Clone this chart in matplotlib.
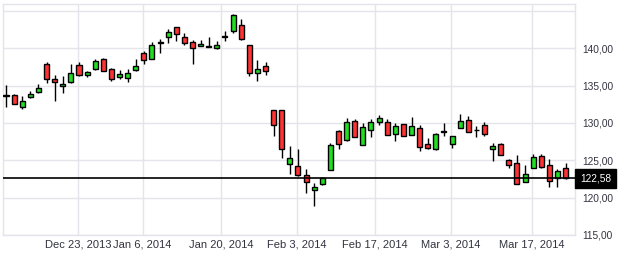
import matplotlib
matplotlib.use("Agg")
import matplotlib.pyplot as plt
import numpy as np
import pandas as pd

# ---- data ----
holidays = ["2013-12-25", "2014-01-01", "2014-01-20", "2014-02-17"]
dates = [d for d in pd.bdate_range("2013-12-10", "2014-03-21") if d.strftime("%Y-%m-%d") not in holidays]

opens = [133.65, 133.8, 132.13, 133.47, 134.21, 137.9, 135.87, 134.93, 135.47, 137.77,
         136.4, 137.2, 138.6, 137.2, 136.13, 136.04, 137.07, 139.33, 138.53, 140.72,
         141.47, 142.8, 141.47, 140.8, 140.31, 140.18, 140.04, 141.52, 142.27, 143.07,
         140.4, 136.67, 137.6, 131.77, 131.77, 124.53, 124.27, 122.97, 121.07, 121.87,
         123.68, 128.93, 127.68, 130.27, 127.07, 129.07, 130.13, 130.13, 128.53, 129.87,
         128.4, 129.33, 127.2, 126.48, 128.85, 127.2, 129.33, 130.4, 129.0, 129.77,
         126.53, 127.2, 125.07, 124.67, 122.13, 124.0, 125.6, 124.4, 122.67, 124.0]
highs = [135.1, 133.9, 133.55, 134.3, 135.24, 138.17, 136.44, 136.3, 137.9, 138.13,
         137.0, 138.53, 138.75, 137.33, 137.07, 137.2, 138.57, 139.68, 140.84, 141.24,
         142.57, 142.85, 142.0, 141.1, 141.1, 141.47, 140.93, 142.35, 144.57, 143.87,
         140.45, 138.44, 138.17, 131.8, 131.8, 126.97, 126.57, 123.87, 122.0, 122.8,
         127.28, 129.0, 130.71, 130.53, 130.0, 130.53, 131.07, 130.53, 130.0, 129.9,
         130.8, 129.73, 128.0, 128.6, 130.0, 128.3, 131.15, 130.88, 129.55, 130.13,
         127.33, 127.3, 125.2, 125.73, 124.35, 125.91, 125.87, 125.2, 123.87, 124.67]
lows = [132.2, 132.5, 131.9, 133.28, 134.08, 135.41, 132.88, 134.08, 135.4, 136.35,
        136.2, 137.15, 136.9, 135.68, 135.9, 135.55, 136.97, 137.87, 138.5, 139.41,
        140.67, 141.0, 140.44, 137.87, 140.3, 140.13, 139.87, 140.93, 142.0, 141.15,
        136.35, 135.68, 136.48, 128.21, 125.28, 123.2, 122.88, 120.61, 118.88, 121.73,
        123.65, 126.48, 127.55, 128.1, 127.0, 128.13, 129.73, 128.4, 127.55, 128.25,
        128.4, 126.31, 126.53, 126.35, 128.21, 126.61, 129.3, 128.75, 128.08, 128.27,
        124.93, 125.7, 124.0, 121.85, 122.1, 124.0, 124.0, 121.47, 121.47, 122.55]
closes = [133.72, 132.53, 132.88, 133.87, 134.67, 135.87, 135.47, 135.2, 136.67, 136.4,
          136.8, 138.27, 136.93, 135.87, 136.53, 136.67, 137.6, 138.4, 140.48, 140.78,
          142.13, 141.91, 140.67, 140.0, 140.57, 140.24, 140.4, 141.58, 144.4, 141.28,
          136.67, 137.28, 137.01, 129.73, 126.53, 125.33, 123.01, 122.13, 121.47, 122.61,
          127.11, 127.2, 130.13, 128.17, 129.47, 130.13, 130.67, 128.4, 129.6, 128.27,
          129.6, 126.75, 126.67, 128.53, 128.91, 128.21, 130.27, 128.8, 129.06, 128.53,
          126.93, 125.73, 124.4, 121.87, 123.2, 125.47, 124.13, 122.21, 123.6, 122.58]

tick_dates = ["2013-12-23", "2014-01-06", "2014-01-20", "2014-02-03", "2014-02-17", "2014-03-03", "2014-03-17"]
tick_labels = ["Dec 23, 2013", "Jan 6, 2014", "Jan 20, 2014", "Feb 3, 2014", "Feb 17, 2014", "Mar 3, 2014", "Mar 17, 2014"]
y_ticks = [115, 120, 125, 130, 135, 140, 145]
last_price = 122.58

# ---- figure ----
W, H = 621, 259
fig = plt.figure(figsize=(W / 100, H / 100), dpi=100)
ax = fig.add_axes([3 / W, (H - 235) / H, (575 - 3) / W, (235 - 4) / H])

x = np.arange(len(dates))
o = np.array(opens); c = np.array(closes); hi = np.array(highs); lo = np.array(lows)
up = c >= o
colors = np.where(up, "#22dd22", "#ff3333")

ax.vlines(x, lo, hi, color="black", linewidth=1.0, zorder=2)
ax.bar(x, np.abs(c - o), bottom=np.minimum(o, c), width=0.62, color=colors,
       edgecolor="black", linewidth=1.0, zorder=3)

ax.axhline(last_price, color="black", linewidth=1.2, zorder=4)

# ticks
date_strs = [d.strftime("%Y-%m-%d") for d in dates]
tick_pos = []
for td in tick_dates:
    ts = pd.Timestamp(td)
    idx = int(np.searchsorted(pd.DatetimeIndex(dates), ts))
    if td in date_strs:
        tick_pos.append(idx - 0.15)
    else:
        tick_pos.append(idx - 0.5)

ax.set_xlim(-0.37, 70.16)
ax.set_ylim(115, 145.93)
ax.set_xticks(tick_pos)
ax.set_xticklabels(tick_labels, fontsize=8, family="Liberation Sans", color="#333340")
ax.set_yticks(y_ticks)
ax.set_yticklabels([f"{v:.2f}".replace(".", ",") if v < 145 else "" for v in y_ticks],
                   fontsize=7.3, family="Liberation Sans", color="#333340")
ax.yaxis.tick_right()
ax.tick_params(axis="y", length=0, pad=5)
ax.tick_params(axis="x", length=0, pad=3.5)
ax.grid(True, color="#e4e4ea", linewidth=1.0, zorder=0)
ax.set_axisbelow(True)
for s in ax.spines.values():
    s.set_color("#e4e4ea")
    s.set_linewidth(1.0)

ax.annotate(f"{last_price:.2f}".replace(".", ","), xy=(1.0, last_price), xycoords=("axes fraction", "data"),
            xytext=(5, 0), textcoords="offset pixels", ha="left", va="center",
            fontsize=7.3, family="Liberation Sans", color="white",
            bbox=dict(boxstyle="square,pad=0.45", fc="black", ec="black"), annotation_clip=False)

fig.savefig("out.png", dpi=100)
